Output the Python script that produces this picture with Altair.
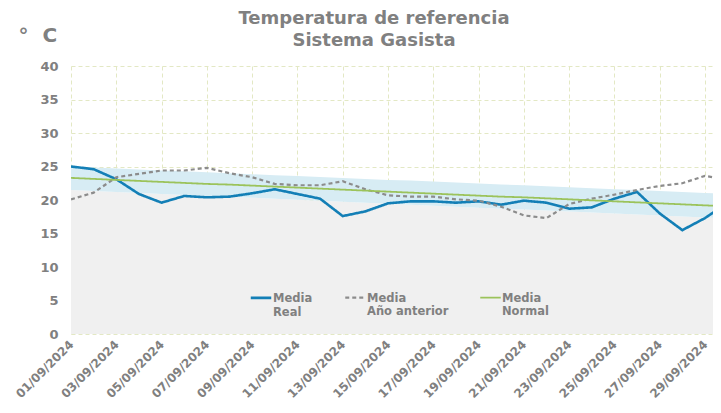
import altair as alt
import pandas as pd

# ---- data ----
dates = [f"2024-09-{d:02d}" for d in range(1, 31)]
real = [25.0, 24.6, 23.1, 20.9, 19.6, 20.6, 20.4, 20.5, 21.0, 21.6,
        20.9, 20.2, 17.6, 18.3, 19.5, 19.8, 19.8, 19.6, 19.8, 19.3,
        19.9, 19.6, 18.7, 18.9, 20.2, 21.2, 18.0, 15.5, 17.3, 19.6]
prev = [20.1, 21.1, 23.4, 23.9, 24.4, 24.4, 24.8, 24.0, 23.4, 22.4,
        22.2, 22.2, 22.8, 21.6, 20.7, 20.5, 20.5, 20.1, 19.9, 19.0,
        17.7, 17.3, 19.4, 20.2, 20.8, 21.5, 22.1, 22.5, 23.6, 23.0]
normal = [23.3, 23.15, 23.0, 22.85, 22.7, 22.55, 22.4, 22.3, 22.15, 22.0,
          21.85, 21.7, 21.55, 21.4, 21.25, 21.1, 20.95, 20.8, 20.65, 20.5,
          20.4, 20.25, 20.1, 19.95, 19.8, 19.65, 19.5, 19.35, 19.2, 19.05]
band_hi = [25.0, 24.85, 24.7, 24.55, 24.4, 24.3, 24.15, 24.0, 23.85, 23.7,
           23.6, 23.45, 23.3, 23.15, 23.0, 22.9, 22.75, 22.6, 22.45, 22.3,
           22.2, 22.05, 21.9, 21.75, 21.6, 21.5, 21.35, 21.2, 21.05, 20.9]
band_lo = [21.5, 21.35, 21.2, 21.05, 20.9, 20.75, 20.6, 20.5, 20.35, 20.2,
           20.05, 19.9, 19.75, 19.6, 19.45, 19.3, 19.15, 19.0, 18.85, 18.7,
           18.6, 18.45, 18.3, 18.15, 18.0, 17.85, 17.7, 17.55, 17.4, 17.25]
series_names = ["Media|Real", "Media|Año anterior", "Media|Normal"]
series_colors = ["#137fb6", "#8c8c8c", "#9bc35b"]
series_dash = [[1, 0], [4, 3], [1, 0]]
series_width = [2.6, 1.8, 2.2]
y_ticks = [0, 5, 10, 15, 20, 25, 30, 35, 40]

# ---- tables ----
wide = pd.DataFrame({"date": dates, "lo": band_lo, "hi": band_hi})
long = pd.concat([
    pd.DataFrame({"date": dates, "value": vals, "series": name})
    for name, vals in zip(series_names, [real, prev, normal])
])

def dt(s, h=0, m=0):
    y, mo, d = s.split("-")
    return alt.DateTime(year=int(y), month=int(mo), date=int(d), hours=h, minutes=m, utc=True)

GREY = "#808080"
FONT = "DejaVu Sans"

x_enc = alt.X(
    "date:T",
    scale=alt.Scale(type="utc", domain=[dt(dates[0]), dt(dates[28], 8, 30)]),
    axis=alt.Axis(
        values=[dt(d) for d in dates[::2]], format="%d/%m/%Y", labelAngle=-45,
        labelAlign="right", labelBaseline="middle", labelPadding=8,
        labelFont=FONT, labelFontSize=12, labelFontWeight="bold", labelColor=GREY,
        ticks=False, tickSize=0, domain=False, grid=True, gridDash=[4, 3],
        gridColor="#e3e8c4", labelOverlap=False, title=None,
    ),
)
y_scale = alt.Scale(domain=[0, 40], nice=False)
y_axis = alt.Axis(
    values=y_ticks, labelFont=FONT, labelFontSize=13, labelFontWeight="bold",
    labelColor=GREY, labelPadding=13, ticks=False, tickSize=0, domain=False,
    labelOverlap=False, grid=True, gridDash=[4, 3], gridColor="#e3e8c4",
    title="°\u00a0\u00a0C", titleAngle=0, titleX=-53, titleY=-31, titleAlign="left",
    titleBaseline="middle", titleFont=FONT, titleFontSize=20,
    titleFontWeight="bold", titleColor=GREY,
)

base = alt.Chart(wide)
grey_area = base.mark_area(color="#f0f0f0", clip=True).encode(
    x=x_enc, y=alt.Y("lo:Q", scale=y_scale, axis=y_axis), y2=alt.datum(0)
)
band = base.mark_area(color="#d7ecf4", clip=True).encode(
    x=x_enc, y=alt.Y("lo:Q", scale=y_scale, axis=y_axis), y2="hi:Q"
)

legend = alt.Legend(
    title=None, orient="none", legendX=178, legendY=224, direction="horizontal",
    symbolType="M-1,-0.4H1", symbolSize=420, symbolStrokeWidth=2.5,
    labelExpr="split(datum.label, '|')", labelFont=FONT, labelFontSize=11.5,
    labelFontWeight="bold", labelColor=GREY, labelBaseline="alphabetic",
    labelOffset=0, labelLimit=300, columnPadding=27,
)
lines = alt.Chart(long).mark_line(clip=True).encode(
    x=x_enc,
    y=alt.Y("value:Q", scale=y_scale, axis=y_axis),
    color=alt.Color("series:N", scale=alt.Scale(domain=series_names, range=series_colors),
                    sort=series_names, legend=legend),
    strokeDash=alt.StrokeDash("series:N", scale=alt.Scale(domain=series_names, range=series_dash),
                              sort=series_names, legend=legend),
    strokeWidth=alt.StrokeWidth("series:N", scale=alt.Scale(domain=series_names, range=series_width),
                                legend=None),
)

chart = alt.layer(grey_area, band, lines).properties(
    width=642, height=268,
    title=alt.TitleParams(
        text=["Temperatura de referencia", "Sistema Gasista"], font=FONT,
        fontSize=18, fontWeight="bold", color=GREY, anchor="middle",
        frame="group", dx=-18, offset=-25, lineHeight=22,
    ),
    autosize=alt.AutoSizeParams(type="none"),
    padding={"left": 63, "top": 58, "right": 0, "bottom": 71},
).configure_view(stroke=None)

chart.save("out.html", embed_options={"renderer": "svg", "actions": False})
